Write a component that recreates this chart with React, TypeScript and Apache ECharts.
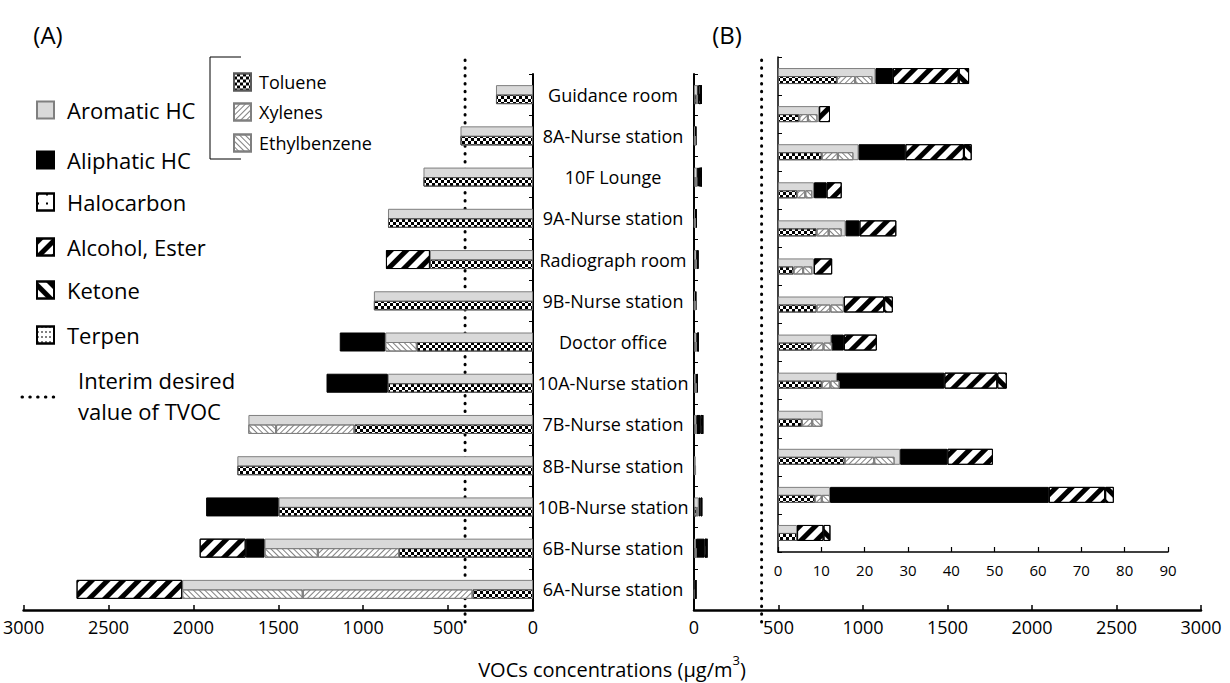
import React, { useEffect, useRef } from 'react';
import * as echarts from 'echarts';

// ---------------- data ----------------
const categories = [
  'Guidance room', '8A-Nurse station', '10F Lounge', '9A-Nurse station', 'Radiograph room',
  '9B-Nurse station', 'Doctor office', '10A-Nurse station', '7B-Nurse station', '8B-Nurse station',
  '10B-Nurse station', '6B-Nurse station', '6A-Nurse station',
];

// Panel (A), µg/m3
const aromaticA = [218, 427, 645, 854, 607, 937, 870, 855, 1676, 1741, 1498, 1581, 2066];
const aliphaticA = [0, 0, 0, 0, 0, 0, 268, 361, 0, 0, 427, 111, 0];
const halocarbonA = [0, 0, 0, 0, 0, 0, 0, 0, 0, 0, 0, 0, 0];
const alcoholA = [0, 0, 0, 0, 259, 0, 0, 0, 0, 0, 0, 271, 622];
const ketoneA = [0, 0, 0, 0, 0, 0, 0, 0, 0, 0, 0, 0, 0];
const terpenA = [0, 0, 0, 0, 0, 0, 0, 0, 0, 0, 0, 0, 0];
const tolueneA = [218, 427, 645, 854, 607, 937, 684, 855, 1052, 1741, 1498, 789, 356];
const xylenesA = [0, 0, 0, 0, 0, 0, 0, 0, 461, 0, 0, 478, 1000];
const ethylbenzeneA = [0, 0, 0, 0, 0, 0, 186, 0, 163, 0, 0, 314, 710];

// Panel (B), µg/m3
const aromaticB = [22.5, 9.5, 18.6, 8.3, 15.6, 8.3, 15.2, 12.3, 13.6, 10.3, 28.2, 12.0, 4.4];
const aliphaticB = [4.0, 0, 10.8, 2.9, 3.2, 0, 0, 2.9, 24.8, 0, 10.9, 50.5, 0];
const halocarbonB = [0, 0, 0, 0, 0, 0, 0, 0, 0, 0, 0, 0, 0];
const alcoholB = [15.2, 2.5, 13.5, 3.5, 8.5, 4.2, 9.3, 7.6, 12.2, 0, 10.5, 13.0, 6.1];
const ketoneB = [2.4, 0, 1.8, 0, 0, 0, 2.0, 0, 2.2, 0, 0, 2.0, 1.6];
const terpenB = [0, 0, 0, 0, 0, 0, 0, 0, 0, 0, 0, 0, 0];
const tolueneB = [13.6, 4.9, 10.1, 4.4, 8.9, 3.6, 8.9, 7.9, 10.1, 5.5, 15.4, 8.5, 4.4];
const xylenesB = [4.2, 2.0, 3.7, 1.9, 2.8, 2.2, 3.2, 2.6, 2.0, 2.4, 6.8, 1.6, 0];
const ethylbenzeneB = [4.0, 2.2, 3.6, 1.6, 3.0, 2.1, 3.1, 2.0, 2.1, 2.2, 4.7, 1.9, 0];

const TVOC_LIMIT = 400;
const outerMax = 3000;
const outerInterval = 500;
const innerMax = 90;
const innerInterval = 10;

const FONT = 'Open Sans';

// ---------------- styles ----------------
const decal = {
  halocarbon: { symbol: 'rect', symbolSize: 1, dashArrayX: [2, 7], dashArrayY: [2, 7], color: '#000' },
  alcohol: { symbol: 'rect', symbolSize: 1, dashArrayX: [1, 0], dashArrayY: [5, 6], rotation: -Math.PI / 4, color: '#000' },
  ketone: { symbol: 'rect', symbolSize: 1, dashArrayX: [1, 0], dashArrayY: [5, 6], rotation: Math.PI / 4, color: '#000' },
  terpen: { symbol: 'rect', symbolSize: 1, dashArrayX: [2, 2], dashArrayY: [1, 4], color: '#000' },
  toluene: { symbol: 'rect', symbolSize: 1, dashArrayX: [[3, 3], [0, 3, 3, 0]], dashArrayY: [3, 0], color: '#000' },
  xylenes: { symbol: 'rect', symbolSize: 1, dashArrayX: [1, 0], dashArrayY: [1, 3], rotation: -Math.PI / 4, color: '#808080' },
  ethylbenzene: { symbol: 'rect', symbolSize: 1, dashArrayX: [1, 0], dashArrayY: [1, 3], rotation: Math.PI / 4, color: '#808080' },
};

type Def = { name: string; a: number[]; b: number[]; style: any };

const classDefs: Def[] = [
  { name: 'Aromatic HC', a: aromaticA, b: aromaticB, style: { color: '#d9d9d9', borderColor: '#7f7f7f', borderWidth: 1 } },
  { name: 'Aliphatic HC', a: aliphaticA, b: aliphaticB, style: { color: '#000', borderColor: '#000', borderWidth: 1 } },
  { name: 'Halocarbon', a: halocarbonA, b: halocarbonB, style: { color: '#fff', borderColor: '#000', borderWidth: 1, decal: decal.halocarbon } },
  { name: 'Alcohol, Ester', a: alcoholA, b: alcoholB, style: { color: '#fff', borderColor: '#000', borderWidth: 1, decal: decal.alcohol } },
  { name: 'Ketone', a: ketoneA, b: ketoneB, style: { color: '#fff', borderColor: '#000', borderWidth: 1, decal: decal.ketone } },
  { name: 'Terpen', a: terpenA, b: terpenB, style: { color: '#fff', borderColor: '#000', borderWidth: 1, decal: decal.terpen } },
];
const aroDefs: Def[] = [
  { name: 'Toluene', a: tolueneA, b: tolueneB, style: { color: '#fff', borderColor: '#595959', borderWidth: 1, decal: decal.toluene } },
  { name: 'Xylenes', a: xylenesA, b: xylenesB, style: { color: '#fff', borderColor: '#7f7f7f', borderWidth: 1, decal: decal.xylenes } },
  { name: 'Ethylbenzene', a: ethylbenzeneA, b: ethylbenzeneB, style: { color: '#fff', borderColor: '#7f7f7f', borderWidth: 1, decal: decal.ethylbenzene } },
];

const nz = (arr: number[]) => arr.map((v) => (v === 0 ? null : v));

function buildSeries() {
  const out: any[] = [];
  const panels = [
    { key: 'a', axis: 0, full: 19 },
    { key: 'b', axis: 1, full: 19 },
    { key: 'b', axis: 2, full: 16 },
  ];
  panels.forEach((p) => {
    classDefs.forEach((d) => {
      out.push({
        type: 'bar', name: d.name, xAxisIndex: p.axis, yAxisIndex: p.axis,
        stack: 'class' + p.axis, barWidth: p.full, barGap: '-50%',
        data: nz((d as any)[p.key]), itemStyle: d.style, emphasis: { disabled: true },
      });
    });
    aroDefs.forEach((d) => {
      out.push({
        type: 'bar', name: d.name, xAxisIndex: p.axis, yAxisIndex: p.axis,
        stack: 'aro' + p.axis, barWidth: p.full / 2, barGap: '-50%',
        data: nz((d as any)[p.key]), itemStyle: d.style, emphasis: { disabled: true },
      });
    });
  });
  return out;
}

const classLegendY = [110, 160, 202, 247, 290, 335];
const aroLegendY = [82, 112, 143];

function buildLegends() {
  const legends: any[] = [];
  classDefs.forEach((d, i) => {
    legends.push({
      data: [d.name], left: 36, top: classLegendY[i] - 12, padding: 0, itemWidth: 17, itemHeight: 17,
      selectedMode: false, icon: 'rect',
      textStyle: { fontSize: 22, lineHeight: 24, color: '#000', fontFamily: FONT, padding: [0, 0, 0, 8] },
    });
  });
  aroDefs.forEach((d, i) => {
    legends.push({
      data: [d.name], left: 233, top: aroLegendY[i] - 10, padding: 0, itemWidth: 17, itemHeight: 17,
      selectedMode: false, icon: 'rect',
      textStyle: { fontSize: 18, lineHeight: 20, color: '#000', fontFamily: FONT, padding: [0, 0, 0, 3] },
    });
  });
  return legends;
}

const axisLine = (w: number) => ({ show: true, onZero: false, lineStyle: { color: '#000', width: w } });
const plain = (v: number) => String(v);

export default function App() {
  const ref = useRef<HTMLDivElement>(null);
  useEffect(() => {
    const chart = echarts.init(ref.current!, null, { renderer: 'svg' });
    const option: any = {
      animation: false,
      backgroundColor: '#fff',
      grid: [
        { left: 23, right: 697, top: 74, bottom: 73 },
        { left: 694, right: 29, top: 74, bottom: 73 },
        { left: 778, right: 62, top: 57, bottom: 131 },
      ],
      legend: buildLegends(),
      xAxis: [
        {
          type: 'value', gridIndex: 0, inverse: true, min: 0, max: outerMax, interval: outerInterval,
          axisLine: axisLine(2.5), axisTick: { show: true, inside: true, length: 5, lineStyle: { color: '#000', width: 1.5 } },
          splitLine: { show: false },
          axisLabel: { fontSize: 18, fontFamily: FONT, color: '#000', margin: 8, formatter: plain },
        },
        {
          type: 'value', gridIndex: 1, min: 0, max: outerMax, interval: outerInterval,
          axisLine: axisLine(2.5), axisTick: { show: true, inside: true, length: 5, lineStyle: { color: '#000', width: 1.5 } },
          splitLine: { show: false },
          axisLabel: { fontSize: 18, fontFamily: FONT, color: '#000', margin: 8, formatter: plain },
        },
        {
          type: 'value', gridIndex: 2, min: 0, max: innerMax, interval: innerInterval,
          axisLine: axisLine(1.5), axisTick: { show: true, inside: true, length: 5, lineStyle: { color: '#000', width: 1.2 } },
          splitLine: { show: false },
          axisLabel: { fontSize: 15, fontFamily: FONT, color: '#000', margin: 10, formatter: plain },
        },
      ],
      yAxis: [
        {
          type: 'category', gridIndex: 0, data: categories, inverse: true, position: 'right',
          axisLine: axisLine(2), axisTick: { show: true, inside: true, length: 4, lineStyle: { color: '#000' } },
          axisLabel: { fontSize: 18, fontFamily: FONT, color: '#000', align: 'center', margin: 80 },
        },
        {
          type: 'category', gridIndex: 1, data: categories, inverse: true, position: 'left',
          axisLine: axisLine(2), axisTick: { show: true, inside: true, length: 4, lineStyle: { color: '#000' } },
          axisLabel: { show: false },
        },
        {
          type: 'category', gridIndex: 2, data: categories, inverse: true, position: 'left',
          axisLine: axisLine(1.5), axisTick: { show: true, inside: true, length: 4, lineStyle: { color: '#000' } },
          axisLabel: { show: false },
        },
      ],
      series: buildSeries(),
    };
    chart.setOption(option);

    const xA = chart.convertToPixel({ xAxisIndex: 0 } as any, TVOC_LIMIT) as unknown as number;
    const xB = chart.convertToPixel({ xAxisIndex: 1 } as any, TVOC_LIMIT) as unknown as number;
    const dotted = { stroke: '#000', lineWidth: 3, lineDash: [0.5, 7.3], lineCap: 'round' };
    const txt = (text: string, x: number, y: number, size: number, align = 'left') => ({
      type: 'text', x, y, silent: true,
      style: { text, fontSize: size, fontFamily: FONT, fill: '#000', align, verticalAlign: 'middle', textAlign: align, textVerticalAlign: 'middle' },
    });
    chart.setOption({
      graphic: [
        { type: 'line', silent: true, shape: { x1: xA, y1: 60, x2: xA, y2: 626 }, style: dotted },
        { type: 'line', silent: true, shape: { x1: xB, y1: 60, x2: xB, y2: 626 }, style: dotted },
        { type: 'line', silent: true, shape: { x1: 22, y1: 397, x2: 58, y2: 397 }, style: dotted },
        txt('Interim desired', 78, 380, 22),
        txt('value of TVOC', 78, 411, 22),
        txt('(A)', 48, 34, 24, 'center'),
        txt('(B)', 727, 34, 24, 'center'),
        {
          type: 'polyline', silent: true,
          shape: { points: [[241, 57], [210, 57], [210, 159], [241, 159]] },
          style: { stroke: '#000', lineWidth: 1, fill: null },
        },
        {
          type: 'text', x: 612, y: 666, silent: true,
          style: {
            text: '{a|VOCs concentrations (μg/m}{s|3}{a|)}',
            align: 'center', verticalAlign: 'middle', textAlign: 'center', textVerticalAlign: 'middle',
            rich: {
              a: { fontSize: 20, fontFamily: FONT, fill: '#000', color: '#000', verticalAlign: 'bottom', lineHeight: 26 },
              s: { fontSize: 13, fontFamily: FONT, fill: '#000', color: '#000', verticalAlign: 'top', lineHeight: 26 },
            },
          },
        },
      ],
    });
    return () => chart.dispose();
  }, []);
  return (
    <div
      ref={ref}
      style={{ position: 'absolute', left: 0, top: 0, width: 1230, height: 683, background: '#fff' }}
    />
  );
}
